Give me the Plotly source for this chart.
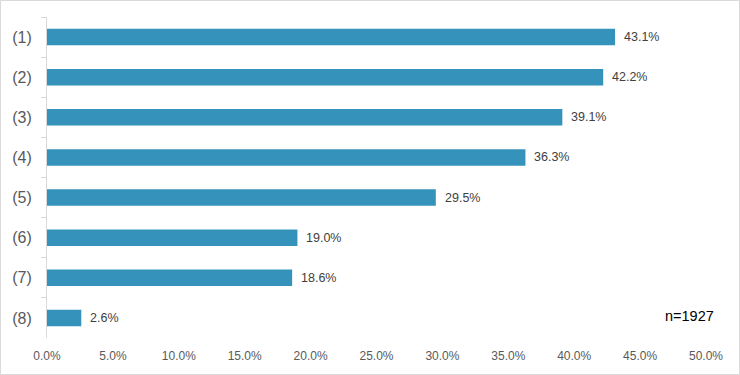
import plotly.graph_objects as go

categories = ["(1)", "(2)", "(3)", "(4)", "(5)", "(6)", "(7)", "(8)"]
values = [43.1, 42.2, 39.1, 36.3, 29.5, 19.0, 18.6, 2.6]
tick_vals = [0, 5, 10, 15, 20, 25, 30, 35, 40, 45, 50]
tick_text = [f"{v:.1f}%" for v in tick_vals]
note = "n=1927"

W, H = 740, 375
L, R, T, B = 47, 34, 17, 37
pw, ph = W - L - R, H - T - B
FONT = "Liberation Sans, Arial, sans-serif"

fig = go.Figure(go.Bar(
    y=categories, x=values, orientation="h",
    marker=dict(color="#3593bb", line=dict(width=0)),
    width=0.41,
))

annotations = [dict(x=v, y=c, xref="x", yref="y", text=f"{v:.1f}%",
                    xanchor="left", yanchor="middle", xshift=7, showarrow=False,
                    font=dict(family=FONT, size=12.5, color="#404040"))
               for c, v in zip(categories, values)]
annotations.append(dict(text=note, xref="paper", yref="paper",
                        x=(716 - L) / pw, y=(H - B - 316) / ph,
                        xanchor="right", yanchor="middle", showarrow=False,
                        font=dict(family=FONT, size=14.5, color="#000000")))

fig.update_layout(
    width=W, height=H,
    margin=dict(l=L, r=R, t=T, b=B, autoexpand=False),
    paper_bgcolor="white", plot_bgcolor="white",
    showlegend=False,
    font=dict(family=FONT),
    xaxis=dict(range=[0, 50], tickvals=tick_vals, ticktext=tick_text,
               showgrid=False, zeroline=False, showline=False, automargin=False,
               tickfont=dict(size=12, color="#595959"), ticks="", ticklabelstandoff=9),
    yaxis=dict(autorange="reversed", showgrid=False, zeroline=False, automargin=False,
               showline=True, linecolor="#d9d9d9", linewidth=1,
               ticks="outside", ticklen=5, tickcolor="#d9d9d9", tickson="boundaries",
               tickfont=dict(size=16, color="#595959"), ticklabelstandoff=11),
    shapes=[dict(type="rect", xref="paper", yref="paper",
                 x0=(0.5 - L) / pw, x1=(W - 0.5 - L) / pw,
                 y0=-(B - 0.5) / ph, y1=(ph + T - 0.5) / ph,
                 line=dict(color="#d9d9d9", width=1))],
    annotations=annotations,
)

fig.write_html("out.html", config={"displayModeBar": False},
               post_script="document.body.style.margin='0';")
